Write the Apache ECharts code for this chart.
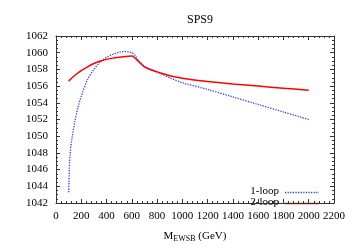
<!DOCTYPE html>
<html><head><meta charset="utf-8">
<script src="https://cdn.jsdelivr.net/npm/echarts@6/dist/echarts.min.js"></script>
<style>html,body{margin:0;padding:0;background:#fff}#c{width:354px;height:248px}</style>
</head><body><div id="c"></div>
<script>
const title = 'SPS9';
const seriesNames = ['1-loop','2-loop'];
const xTicks = [0,200,400,600,800,1000,1200,1400,1600,1800,2000,2200];
const yTicks = [1042,1044,1046,1048,1050,1052,1054,1056,1058,1060,1062];
const loop1X = [100,110,125,150,175,200,250,300,350,400,450,500,550,600,625,650,700,750,800,850,900,1000,1200,1400,1600,1800,2000];
const loop1Y = [1043.3,1047.6,1049.6,1051.8,1053.5,1054.8,1056.8,1058.0,1058.9,1059.45,1059.8,1060.05,1060.15,1060.0,1059.7,1059.1,1058.4,1058.0,1057.7,1057.35,1057.0,1056.4,1055.6,1054.7,1053.8,1052.9,1052.0];
const loop2X = [100,150,200,250,300,350,400,450,500,550,600,620,650,700,750,800,900,1000,1200,1400,1600,1800,2000];
const loop2Y = [1056.6,1057.3,1057.85,1058.3,1058.7,1059.0,1059.2,1059.35,1059.45,1059.55,1059.6,1059.45,1059.0,1058.3,1057.95,1057.7,1057.25,1056.95,1056.55,1056.25,1056.0,1055.75,1055.5];
const s1 = loop1X.map((x,i)=>[x,loop1Y[i]]);
const s2 = loop2X.map((x,i)=>[x,loop2Y[i]]);
const font = 'Liberation Serif';
const blue = '#3a3aff', red = '#ff0000';
const blueLine = {color:blue, width:1.3, type:[1.3,1.3]};
const redLine = {color:red, width:1.5};
const tickStyle = {show:true, inside:true, length:4, lineStyle:{color:'#333', width:1}};
const minorStyle = {show:true, length:2, lineStyle:{color:'#333', width:1}};
const chart = echarts.init(document.getElementById('c'), null, {renderer:'canvas'});
chart.setOption({
  animation:false,
  backgroundColor:'#fff',
  title:{text:title, left:195, top:9, textAlign:'center', textStyle:{fontFamily:font, fontWeight:'normal', fontSize:12, color:'#000'}},
  grid:{left:56, top:36, right:20, bottom:37, containLabel:false},
  graphic:[
    {type:'text', right:75, top:186, style:{text:seriesNames[0], font:'11px "Liberation Serif"', fill:'#000'}},
    {type:'line', shape:{x1:285, y1:192.5, x2:319, y2:192.5}, style:{stroke:blue, lineWidth:1.3, lineDash:[1.3,1.3]}},
    {type:'text', right:75, top:197, style:{text:seriesNames[1], font:'11px "Liberation Serif"', fill:'#000'}},
    {type:'line', shape:{x1:285, y1:203.5, x2:319, y2:203.5}, style:{stroke:red, lineWidth:1.5}}
  ],
  xAxis:[{type:'value', min:0, max:2200, interval:200, position:'bottom',
      axisLine:{show:true, onZero:false, lineStyle:{color:'#333'}},
      axisTick:tickStyle, minorTick:Object.assign({splitNumber:5}, minorStyle), splitLine:{show:false},
      axisLabel:{fontFamily:font, fontSize:11, color:'#000', margin:8, formatter:v=>String(v)},
      name:'{m|M}{s|EWSB}{m| (GeV)}', nameLocation:'middle', nameGap:26,
      nameTextStyle:{rich:{m:{fontFamily:font, fontSize:11, color:'#000'}, s:{fontFamily:font, fontSize:8, color:'#000', verticalAlign:'bottom', padding:[6,0,0,0]}}}},
    {type:'value', min:0, max:2200, interval:200, position:'top',
      axisLine:{show:true, onZero:false, lineStyle:{color:'#333'}},
      axisTick:tickStyle, minorTick:Object.assign({splitNumber:5}, minorStyle), splitLine:{show:false}, axisLabel:{show:false}}],
  yAxis:[{type:'value', min:1042, max:1062, interval:2, position:'left',
      axisLine:{show:true, onZero:false, lineStyle:{color:'#333'}},
      axisTick:tickStyle, minorTick:Object.assign({splitNumber:4}, minorStyle), splitLine:{show:false},
      axisLabel:{fontFamily:font, fontSize:11, color:'#000', margin:8, formatter:v=>String(v)}},
    {type:'value', min:1042, max:1062, interval:2, position:'right',
      axisLine:{show:true, onZero:false, lineStyle:{color:'#333'}},
      axisTick:tickStyle, minorTick:Object.assign({splitNumber:4}, minorStyle), splitLine:{show:false}, axisLabel:{show:false}}],
  series:[
    {name:seriesNames[0], type:'line', data:s1, smooth:0.3, showSymbol:false, symbol:'none', color:blue, lineStyle:blueLine},
    {name:seriesNames[1], type:'line', data:s2, smooth:0.3, showSymbol:false, symbol:'none', color:red, lineStyle:redLine}
  ]
});
</script></body></html>
